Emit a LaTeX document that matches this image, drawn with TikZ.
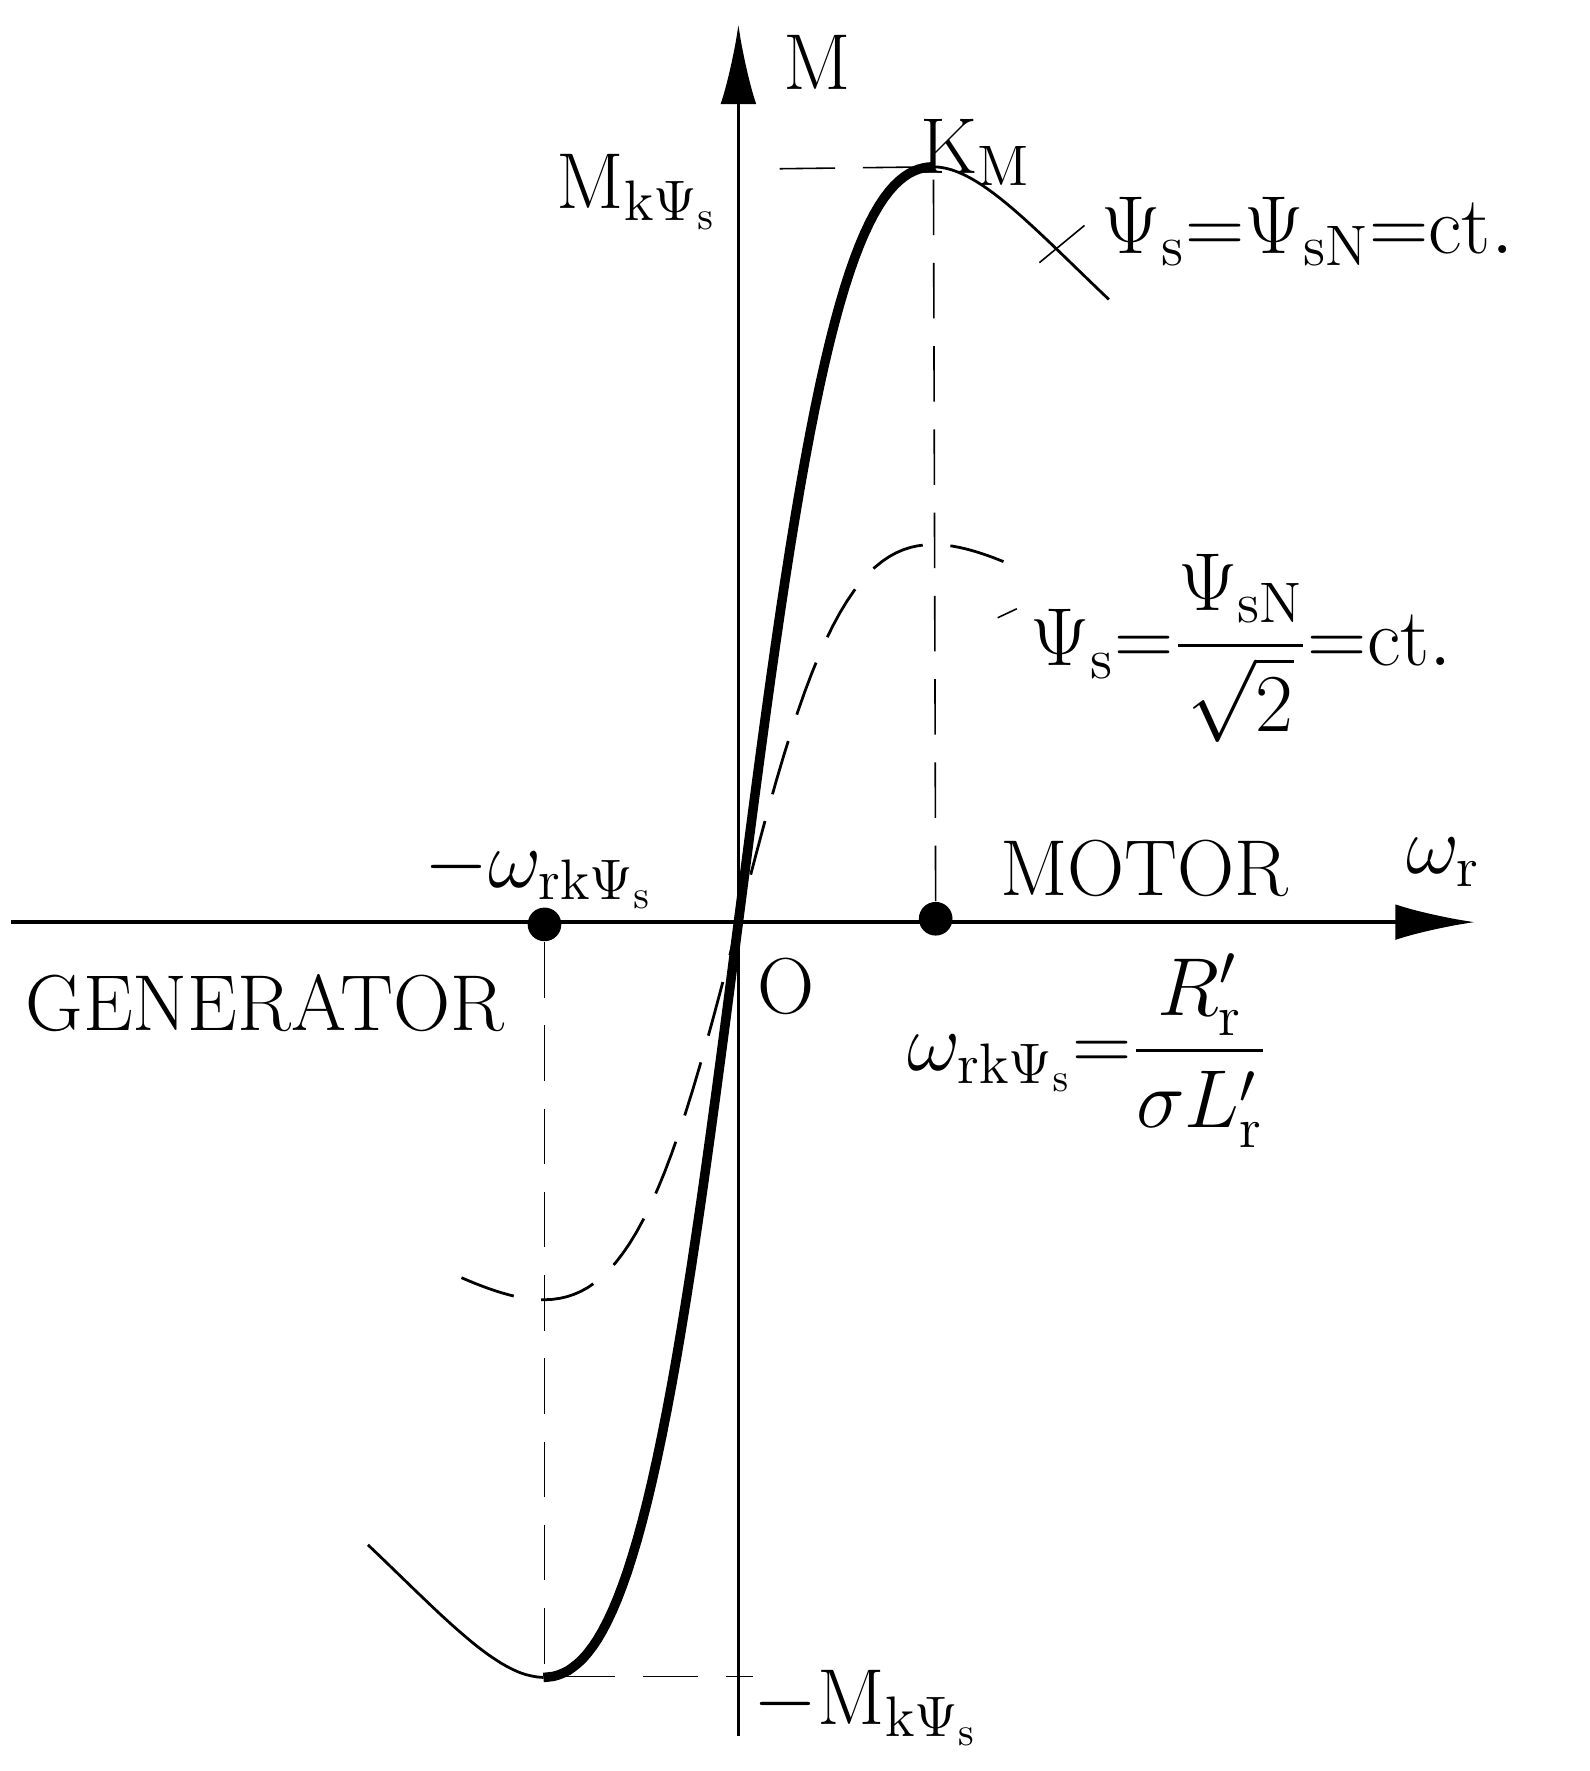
\documentclass[tikz,border=0pt]{standalone}
\usepackage{amsmath}
\usepackage{tikz}
\usetikzlibrary{arrows.meta}
\begin{document}
\begin{tikzpicture}[x=0.01cm,y=-0.01cm]
        \tikzset{lbl/.style={font=\fontsize{20}{24}\selectfont},
                 gestr/.style={dashed,dash pattern=on 14pt off 7pt},
                 achse/.style={-{Latex[length=20pt,width=9pt]},line width=0.9pt}}
        \useasboundingbox (0,0) rectangle (1410,1571);
        \coordinate (ursprung) at (655,818);
        % Achsen
        \draw[achse] (10,818) -- (1308,818);
        \draw[achse] (655,1540) -- (655,22);
        % Kennlinien
        \draw[line width=2.4pt] plot[domain=-1:1,samples=80] ({655+173*\x},{818-670*2*\x/(1+\x*\x)});
        \draw[line width=0.7pt] plot[domain=1:1.9,samples=30] ({655+173*\x},{818-670*2*\x/(1+\x*\x)});
        \draw[line width=0.7pt] plot[domain=-1:-1.9,samples=30] ({655+173*\x},{818-670*2*\x/(1+\x*\x)});
        \draw[line width=0.7pt,gestr] plot[domain=-1.42:1.42,samples=80] ({655+173*\x},{818-335*2*\x/(1+\x*\x)});
        % Hilfslinien
        \node[circle,fill,inner sep=3pt] (wneg) at (483,820) {};
        \node[circle,fill,inner sep=3pt] (wpos) at (830,815) {};
        \coordinate (kmax) at (828,148);
        \coordinate (kmin) at (483,1487);
        \draw[gestr] (wpos) -- (kmax) -- (668,150);
        \draw[gestr] (wneg) -- (kmin) -- (668,1487);
        \draw (922,233) -- (962,200);
        \draw (885,548) -- (902,540);
        % Beschriftung
        \node[lbl] (mlab) at (725,55) {M};
        \node[lbl] (mk) at (565,170) {M$_{\mathrm{k}\Psi_\mathrm{s}}$};
        \node[lbl] (km) at (865,135) {K$_\mathrm{M}$};
        \node[lbl,anchor=west] (psi1) at (965,205) {$\Psi_\mathrm{s}{=}\Psi_\mathrm{sN}{=}\mathrm{ct.}$};
        \node[lbl,anchor=west] (psi2) at (902,575) {$\Psi_\mathrm{s}{=}\dfrac{\Psi_\mathrm{sN}}{\sqrt{2}}{=}\mathrm{ct.}$};
        \node[lbl] (wrk) at (478,775) {$-\omega_{\mathrm{rk}\Psi_\mathrm{s}}$};
        \node[lbl] (motor) at (1015,770) {MOTOR};
        \node[lbl] (wr) at (1280,765) {$\omega_\mathrm{r}$};
        \node[lbl] (olab) at (697,875) {O};
        \node[lbl] (gen) at (235,890) {GENERATOR};
        \node[lbl] (wrk2) at (965,932) {$\omega_{\mathrm{rk}\Psi_\mathrm{s}}{=}\dfrac{R'_\mathrm{r}}{\sigma L'_\mathrm{r}}$};
        \node[lbl] (mkneg) at (768,1515) {$-$M$_{\mathrm{k}\Psi_\mathrm{s}}$};
\end{tikzpicture}
\end{document}
